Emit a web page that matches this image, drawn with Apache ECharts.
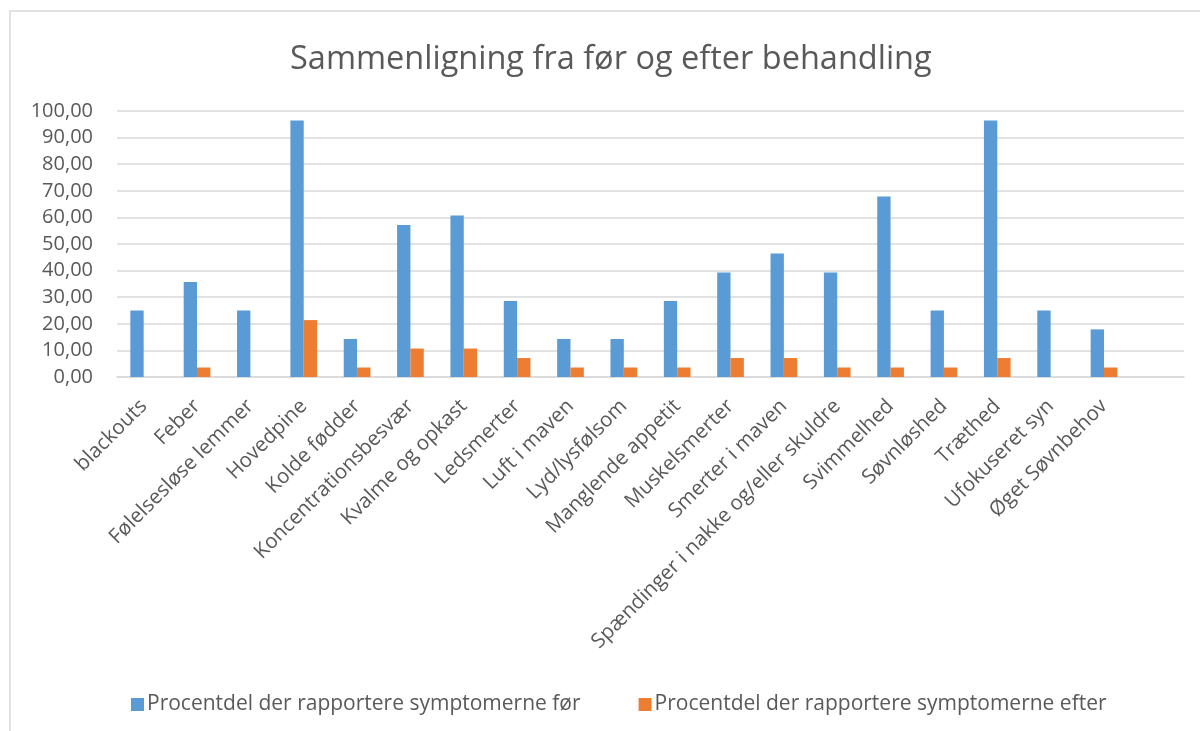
<!DOCTYPE html>
<html>
<head>
<meta charset="utf-8">
<script src="https://cdn.jsdelivr.net/npm/echarts@6/dist/echarts.min.js"></script>
<style>
  html, body { margin: 0; padding: 0; background: #fff; }
  #chart { width: 1200px; height: 731px; }
</style>
</head>
<body>
<div id="chart"></div>
<script>
// kategorier (sidste er tom, som i Excel-diagrammet)
var categories = ['blackouts', 'Feber', 'Følelsesløse lemmer', 'Hovedpine', 'Kolde fødder',
  'Koncentrationsbesvær', 'Kvalme og opkast', 'Ledsmerter', 'Luft i maven', 'Lyd/lysfølsom',
  'Manglende appetit', 'Muskelsmerter', 'Smerter i maven', 'Spændinger i nakke og/eller skuldre',
  'Svimmelhed', 'Søvnløshed', 'Træthed', 'Ufokuseret syn', 'Øget Søvnbehov', ''];
// procent før behandling
var foer = [25.0, 35.7, 25.0, 96.4, 14.3, 57.1, 60.7, 28.6, 14.3, 14.3,
  28.6, 39.3, 46.4, 39.3, 67.9, 25.0, 96.4, 25.0, 17.9, null];
// procent efter behandling
var efter = [0, 3.57, 0, 21.4, 3.57, 10.7, 10.7, 7.14, 3.57, 3.57,
  3.57, 7.14, 7.14, 3.57, 3.57, 3.57, 7.14, 0, 3.57, null];
var seriesNames = ['Procentdel der rapportere symptomerne før', 'Procentdel der rapportere symptomerne efter'];

var txt = '#595959';
var font = 'Open Sans';
var myChart = echarts.init(document.getElementById('chart'));
var option = {
  backgroundColor: '#fff',
  animation: false,
  textStyle: { fontFamily: font },
  title: {
    text: 'Sammenligning fra før og efter behandling',
    left: 285,
    top: 38,
    textStyle: { color: txt, fontSize: 32.5, fontWeight: 'normal', fontFamily: font }
  },
  graphic: [{
    type: 'rect',
    shape: { x: 10, y: 11, width: 1200, height: 730 },
    style: { fill: 'none', stroke: '#d9d9d9', lineWidth: 1.5 },
    silent: true
  }],
  legend: {
    top: 689,
    left: 126,
    itemWidth: 13,
    itemHeight: 13,
    itemGap: 58,
    icon: 'rect',
    textStyle: { color: txt, fontSize: 21, fontFamily: font, padding: [0, 0, 0, -2] },
    data: seriesNames
  },
  grid: { left: 117, right: 16, top: 111, bottom: 354 },
  xAxis: {
    type: 'category',
    data: categories,
    axisTick: { show: false },
    axisLine: { lineStyle: { color: '#d9d9d9', width: 1.5 } },
    axisLabel: { rotate: 45, interval: 0, margin: 26, color: txt, fontSize: 20.5, fontFamily: font }
  },
  yAxis: {
    type: 'value',
    min: 0, max: 100, interval: 10,
    axisLine: { show: false },
    axisTick: { show: false },
    splitLine: { lineStyle: { color: '#d9d9d9', width: 1.5 } },
    axisLabel: {
      color: txt, fontSize: 20, fontFamily: font, margin: 24,
      formatter: function (v) { return v.toFixed(2).replace('.', ','); }
    }
  },
  series: [
    { name: seriesNames[0], type: 'bar', data: foer, barWidth: '25%', barGap: '0%',
      itemStyle: { color: '#5b9bd5' } },
    { name: seriesNames[1], type: 'bar', data: efter, barWidth: '25%',
      itemStyle: { color: '#ed7d31' } }
  ]
};
myChart.setOption(option);
</script>
</body>
</html>
